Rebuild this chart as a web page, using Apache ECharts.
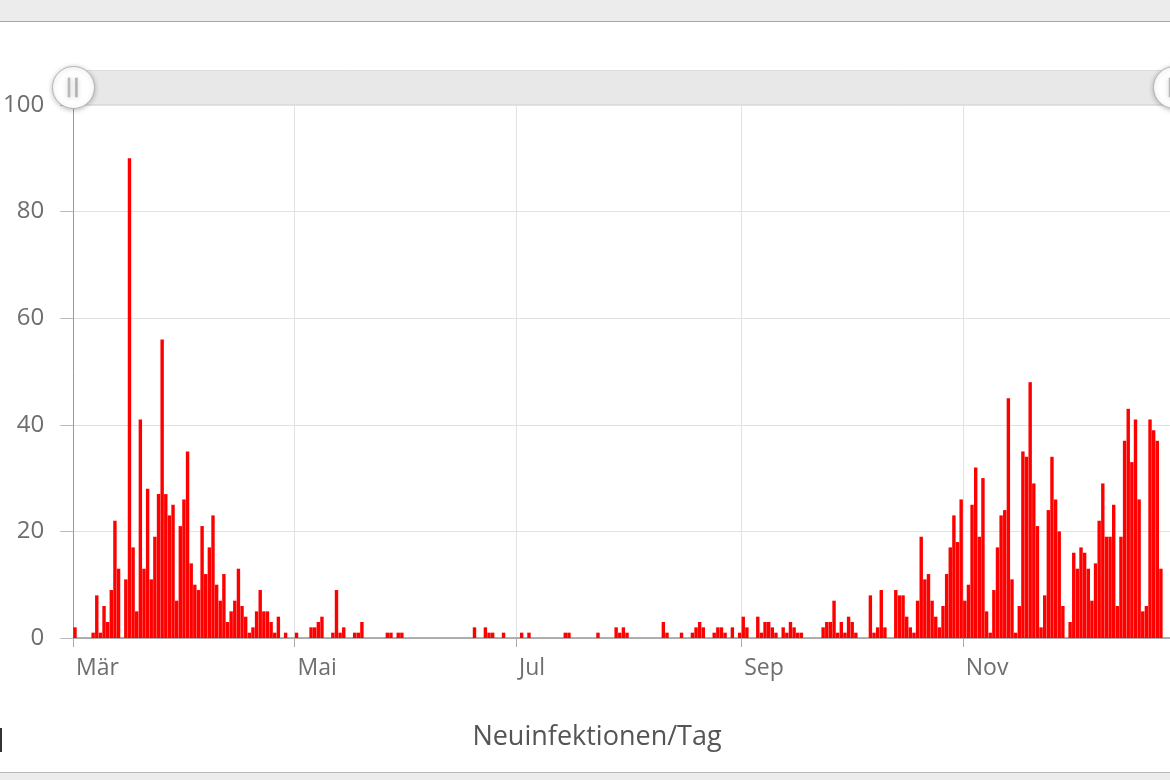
<!DOCTYPE html>
<html><head><meta charset="utf-8">
<script src="https://cdn.jsdelivr.net/npm/echarts@6/dist/echarts.min.js"></script>
<style>html,body{margin:0;padding:0;background:#fff}#c{width:1170px;height:780px}</style>
</head><body><div id="c"></div>
<script>
// first day of the series
const startDate = [2020, 2, 1]; // 1 March 2020 (month 0-based)
// new infections per day, starting 1 March
const newCases = [
  2,0,0,0,0,1,8,1,6,3,
  9,22,13,0,11,90,17,5,41,13,
  28,11,19,27,56,27,23,25,7,21,
  26,35,14,10,9,21,12,17,23,10,
  7,12,3,5,7,13,6,4,1,2,
  5,9,5,5,3,1,4,0,1,0,
  0,1,0,0,0,2,2,3,4,0,
  0,1,9,1,2,0,0,1,1,3,
  0,0,0,0,0,0,1,1,0,1,
  1,0,0,0,0,0,0,0,0,0,
  0,0,0,0,0,0,0,0,0,0,
  2,0,0,2,1,1,0,0,1,0,
  0,0,0,1,0,1,0,0,0,0,
  0,0,0,0,0,1,1,0,0,0,
  0,0,0,0,1,0,0,0,0,2,
  1,2,1,0,0,0,0,0,0,0,
  0,0,3,1,0,0,0,1,0,0,
  1,2,3,2,0,0,1,2,2,1,
  0,2,0,1,4,2,0,0,4,1,
  3,3,2,1,0,2,1,3,2,1,
  1,0,0,0,0,0,2,3,3,7,
  1,3,1,4,3,1,0,0,0,8,
  1,2,9,2,0,0,9,8,8,4,
  2,1,7,19,11,12,7,4,2,6,
  12,17,23,18,26,7,10,25,32,19,
  30,5,1,9,17,23,24,45,11,1,
  6,35,34,48,29,21,2,8,24,34,
  26,20,6,0,3,16,13,17,16,13,
  7,14,22,29,19,19,25,6,19,37,
  43,33,41,26,5,6,41,39,37,13,
  0,0
];
// month names used as x tick labels
const monthNames = ['Jan','Feb','Mär','Apr','Mai','Jun','Jul','Aug','Sep','Okt','Nov','Dez'];
// months (1-based) that get a tick + label
const labeledMonths = [3, 5, 7, 9, 11];
// y axis ticks
const yMin = 0, yMax = 100, yStep = 20;
const titleText = 'Neuinfektionen/Tag';

function pad(n){return n < 10 ? '0' + n : '' + n;}
const dates = newCases.map(function(_, i){
  const d = new Date(Date.UTC(startDate[0], startDate[1], startDate[2] + i));
  return d.getUTCFullYear() + '-' + pad(d.getUTCMonth() + 1) + '-' + pad(d.getUTCDate());
});
function isLabelDay(idx, val){
  const v = dates[idx];
  if (!v) return false;
  const m = parseInt(v.substr(5,2),10), day = parseInt(v.substr(8,2),10);
  return day === 1 && labeledMonths.indexOf(m) >= 0;
}

const chart = echarts.init(document.getElementById('c'), null, {renderer:'canvas'});
const font = '"Open Sans", "Noto Sans", sans-serif';
chart.setOption({
  animation: false,
  backgroundColor: '#ffffff',
  title: {
    text: titleText,
    left: 592, top: 719,
    textAlign: 'center',
    textStyle: {fontFamily: font, fontSize: 27, fontWeight: 'normal', color: '#555555'}
  },
  graphic: [
    {type:'rect', shape:{x:0,y:0,width:1170,height:21}, style:{fill:'#ececec'}, silent:true},
    {type:'rect', shape:{x:0,y:21,width:1170,height:1}, style:{fill:'#a8a8a8'}, silent:true},
    {type:'rect', shape:{x:0,y:772,width:1170,height:1}, style:{fill:'#b8b8b8'}, silent:true},
    {type:'rect', shape:{x:0,y:773,width:1170,height:7}, style:{fill:'#ececec'}, silent:true},
    {type:'rect', shape:{x:0,y:728,width:2,height:24}, style:{fill:'#333333'}, silent:true}
  ],
  grid: {left: 71, right: -4, top: 105, bottom: 142, containLabel: false},
  dataZoom: [{
    type: 'slider', xAxisIndex: 0, start: 0, end: 100,
    left: 71, right: -4, top: 70, height: 35,
    showDataShadow: false, showDetail: false, brushSelect: false,
    moveHandleSize: 0,
    backgroundColor: '#e8e8e8', fillerColor: '#e8e8e8', borderColor: '#dcdcdc',
    handleIcon: 'path://M0,-20A20,20 0 1,1 0,20A20,20 0 1,1 0,-20Z M-5,-9L-5,9L-3.5,9L-3.5,-9Z M2,-9L2,9L3.5,9L3.5,-9Z',
    handleSize: '120%',
    handleStyle: {color:'#ffffff', borderColor:'#b5b5b5', borderWidth:1, shadowBlur:5, shadowColor:'rgba(0,0,0,0.25)', shadowOffsetY:1},
    emphasis: {handleStyle: {color:'#ffffff', borderColor:'#b5b5b5'}},
    dataBackground: {lineStyle:{opacity:0}, areaStyle:{opacity:0}}
  }],
  xAxis: {
    type: 'category',
    data: dates,
    boundaryGap: true,
    axisLine: {show: true, lineStyle: {color: '#999999', width: 1.5}},
    axisTick: {show: true, interval: isLabelDay, length: 9, lineStyle: {color: '#aaaaaa'}},
    splitLine: {show: true, interval: isLabelDay, lineStyle: {color: '#e2e2e2', width: 1}},
    axisLabel: {
      interval: isLabelDay,
      align: 'left', padding: [0,0,0,1],
      margin: 19,
      fontFamily: font, fontSize: 23, color: '#6e6e6e',
      formatter: function(v){ return monthNames[parseInt(v.substr(5,2),10) - 1]; }
    }
  },
  yAxis: {
    type: 'value', min: yMin, max: yMax, interval: yStep,
    axisLine: {show: true, lineStyle: {color: '#999999', width: 1}},
    axisTick: {show: true, length: 13, lineStyle: {color: '#bbbbbb'}},
    splitLine: {show: true, lineStyle: {color: '#e2e2e2', width: 1}},
    axisLabel: {margin: 29, fontFamily: font, fontSize: 24, color: '#6e6e6e'}
  },
  series: [{
    type: 'bar',
    data: newCases,
    barCategoryGap: '6%',
    itemStyle: {color: '#ff0000'},
    emphasis: {disabled: true}
  }]
});
</script></body></html>
